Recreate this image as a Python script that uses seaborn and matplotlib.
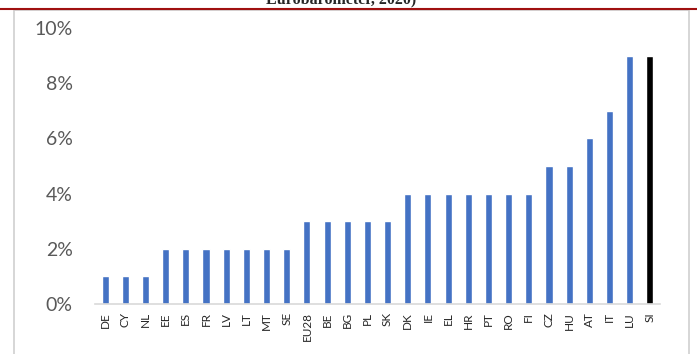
import matplotlib
matplotlib.use("Agg")
import matplotlib.pyplot as plt
import matplotlib.patches as patches
from matplotlib.lines import Line2D
from matplotlib.ticker import PercentFormatter
import pandas as pd
import seaborn as sns

# country shares (%)
countries = ["DE", "CY", "NL", "EE", "ES", "FR", "LV", "LT", "MT", "SE", "EU28",
             "BE", "BG", "PL", "SK", "DK", "IE", "EL", "HR", "PT", "RO", "FI",
             "CZ", "HU", "AT", "IT", "LU", "SI"]
share = [1, 1, 1, 2, 2, 2, 2, 2, 2, 2, 3,
         3, 3, 3, 3, 4, 4, 4, 4, 4, 4, 4,
         5, 5, 6, 7, 9, 9]
highlight = "SI"

df = pd.DataFrame({"country": countries, "share": share})
colors = ["#000000" if c == highlight else "#4472C4" for c in countries]

sns.set_style("white")
plt.rcParams["font.family"] = ["Lato", "DejaVu Sans"]

fig = plt.figure(figsize=(6.97, 3.54), dpi=100)
ax = fig.add_axes([95 / 697, 50 / 354, 565 / 697, 276 / 354])

sns.barplot(data=df, x="country", y="share", hue="country", palette=colors,
            legend=False, width=0.35, ax=ax, saturation=1)

ax.set_ylim(0, 10)
ax.set_xlim(-0.5, 27.5)
ax.set_yticks([0, 2, 4, 6, 8, 10])
ax.yaxis.set_major_formatter(PercentFormatter(decimals=0))
ax.set_xlabel("")
ax.set_ylabel("")
ax.tick_params(axis="y", labelsize=14, labelcolor="#595959", length=0, pad=16)
ax.tick_params(axis="x", labelsize=8.5, labelcolor="#262626", length=0, pad=6,
               rotation=90)
for s in ["top", "right", "left"]:
    ax.spines[s].set_visible(False)
ax.spines["bottom"].set_color("#d9d9d9")
ax.spines["bottom"].set_linewidth(1.2)

# outer chart box and cut-off caption line above it
fig.add_artist(patches.Rectangle((14 / 697, -0.05), 675 / 697, 1 - 10 / 354 + 0.05,
                                 transform=fig.transFigure, fill=False,
                                 edgecolor="#d0d0d0", linewidth=1.2))
fig.add_artist(Line2D([0, 1], [1 - 9 / 354, 1 - 9 / 354], transform=fig.transFigure,
                      color="#a01010", linewidth=1.5))
fig.text(0.49, 1 - 3 / 354, "Eurobarometer, 2020)", ha="center", va="baseline",
         fontsize=11.5, fontweight="bold", family="Liberation Serif")

fig.savefig("out.png", dpi=100)
